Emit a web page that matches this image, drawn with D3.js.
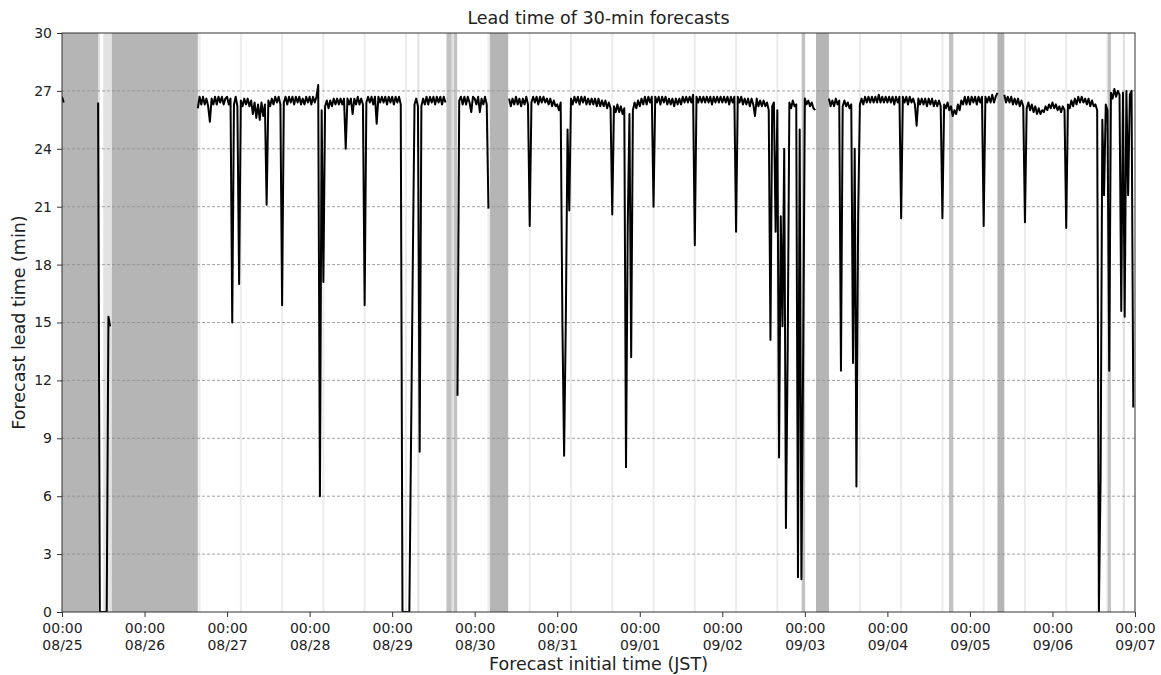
<!DOCTYPE html>
<html>
<head>
<meta charset="utf-8">
<script src="https://cdn.jsdelivr.net/npm/d3@7"></script>
<style>
body { margin: 0; background: #fff; }
text { font-family: "DejaVu Sans", sans-serif; fill: #222; }
</style>
</head>
<body>
<svg id="chart" width="1161" height="675"></svg>
<script>
// tick labels
var dayLabels = ["08/25","08/26","08/27","08/28","08/29","08/30","08/31","09/01","09/02","09/03","09/04","09/05","09/06","09/07"];
var yTicks = [0,3,6,9,12,15,18,21,24,27,30];

// forecast lead time (min), one value every 30 min from 00:00, null = no forecast
var lead0825 = [26.7,26.4,null,null,null,null,null,null,null,null,null,null,
  null,null,null,null,null,null,null,null,null,26.4,0,0,
  0,0,0,15.3,14.8,null,null,null,null,null,null,null,
  null,null,null,null,null,null,null,null,null,null,null,null];
var lead0826 = [null,null,null,null,null,null,null,null,null,null,null,null,
  null,null,null,null,null,null,null,null,null,null,null,null,
  null,null,null,null,null,null,null,26.1,26.7,26.3,26.7,26.3,
  26.6,26.2,25.4,26.6,26.3,26.7,26.3,26.7,26.4,26.7,26.3,26.6];
var lead0827 = [26.7,26.3,26.6,15.0,26.3,26.7,26.2,17.0,26.5,26.2,26.6,26.3,
  26.6,26.2,26.5,25.8,26.4,25.6,26.3,25.5,26.4,25.7,26.3,21.1,
  26.5,26.2,26.6,26.3,26.7,26.4,26.7,26.3,15.9,26.4,26.7,26.3,
  26.7,26.4,26.7,26.3,26.7,26.4,26.7,26.3,26.6,26.3,26.7,26.4];
var lead0828 = [26.7,26.3,26.7,26.4,26.7,27.3,6.0,26.0,17.1,26.2,26.5,26.1,
  26.5,26.2,26.6,26.3,26.6,26.3,26.6,26.3,26.6,24.0,26.6,26.3,
  26.6,25.8,26.6,26.3,26.7,26.3,26.6,26.3,15.9,26.4,26.7,26.4,
  26.7,26.3,26.7,25.3,26.7,26.4,26.7,26.4,26.7,26.3,26.7,26.4];
var lead0829 = [26.7,26.3,26.7,26.4,26.7,26.3,0,0,0,0,0,9.0,
  18.0,26.3,26.6,26.2,8.3,26.2,26.6,26.3,26.7,26.3,26.7,26.4,
  26.7,26.3,26.7,26.4,26.7,26.3,26.7,26.4,null,null,null,null,
  null,null,11.2,26.5,26.7,26.3,26.7,26.3,26.7,26.4,25.9,26.7];
var lead0830 = [26.6,26.3,26.7,25.9,26.6,26.3,26.7,26.3,20.9,null,null,null,
  null,null,null,null,null,null,null,null,26.6,26.2,26.6,26.3,
  26.7,26.3,26.6,26.2,26.6,26.3,26.7,26.3,20.0,26.4,26.7,26.4,
  26.7,26.3,26.7,26.4,26.7,26.4,26.6,26.3,26.6,26.2,26.5,26.2];
var lead0831 = [26.3,26.0,26.4,15.0,8.1,15.2,25.0,20.8,26.6,26.3,26.7,26.4,
  26.7,26.3,26.7,26.4,26.7,26.3,26.6,26.3,26.6,26.3,26.6,26.2,
  26.6,26.2,26.5,26.2,26.5,26.1,26.4,26.1,20.6,26.2,25.9,26.3,
  25.9,26.2,25.8,26.1,7.5,20.0,25.8,13.2,26.0,26.4,26.1,26.5];
var lead0901 = [26.2,26.6,26.3,26.7,26.3,26.7,26.4,26.7,21.0,26.7,26.4,26.7,
  26.3,26.7,26.4,26.7,26.3,26.6,26.3,26.6,26.2,26.6,26.3,26.6,
  26.3,26.7,26.4,26.7,26.4,26.7,26.4,26.8,19.0,26.7,26.4,26.7,
  26.4,26.7,26.4,26.7,26.4,26.7,26.3,26.7,26.4,26.7,26.4,26.7];
var lead0902 = [26.4,26.7,26.4,26.7,26.3,26.7,26.4,26.7,19.7,26.7,26.4,26.7,
  26.3,26.6,26.3,26.6,26.2,26.6,26.3,25.7,26.6,26.2,26.5,26.2,
  26.5,26.2,26.4,26.0,14.1,26.2,26.4,19.7,26.0,8.0,20.5,14.8,
  24.0,4.35,13.3,26.4,26.1,26.5,26.2,26.3,1.8,25.0,1.7,13.0];
var lead0903 = [26.6,26.3,26.5,26.2,26.4,26.1,26.0,null,null,null,null,null,
  null,null,26.6,26.2,26.5,26.2,26.6,26.3,26.5,12.5,26.2,26.5,
  26.2,26.4,26.1,26.3,12.9,24.0,6.5,20.5,26.3,26.6,26.3,26.7,
  26.4,26.7,26.4,26.7,26.4,26.7,26.4,26.8,26.4,26.7,26.4,26.7];
var lead0904 = [26.4,26.7,26.4,26.7,26.3,26.7,26.4,26.7,20.4,26.7,26.4,26.7,
  26.3,26.7,26.4,26.6,26.3,25.2,26.6,26.3,26.6,26.3,26.6,26.2,
  26.6,26.3,26.6,26.2,26.5,26.2,26.5,26.2,20.4,26.3,26.1,26.4,
  26.0,26.2,25.7,26.0,25.8,26.3,26.0,26.5,26.3,26.7,26.3,26.7];
var lead0905 = [26.3,26.7,26.4,26.7,26.3,26.7,26.4,26.7,20.0,26.7,26.4,26.7,
  26.4,26.8,26.4,26.7,26.9,null,null,null,26.8,26.4,26.7,26.4,
  26.7,26.3,26.6,26.3,26.6,26.2,26.5,26.2,20.2,26.1,26.4,26.0,
  26.3,25.9,26.2,25.8,26.1,25.8,26.0,25.9,26.2,26.0,26.3,26.1];
var lead0906 = [26.4,26.1,26.3,26.0,26.2,25.9,26.2,26.0,19.9,26.3,26.1,26.5,
  26.2,26.6,26.3,26.7,26.4,26.7,26.4,26.6,26.3,26.6,26.2,26.5,
  26.2,26.3,26.0,0,7.0,25.5,21.6,26.3,26.0,12.5,26.9,26.6,
  27.1,26.7,27.0,26.8,15.6,26.9,15.3,27.0,21.6,26.8,27.0,10.6];

// periods without forecasts: start, end, shade
var gapStart = ["08/25 00:00","08/25 10:35","08/25 12:00","08/25 14:30","08/29 07:20","08/29 15:50","08/29 17:20","08/29 18:00",
  "08/30 04:25","09/02 23:05","09/03 03:15","09/04 17:55","09/05 08:00","09/06 16:05","09/06 20:25"];
var gapEnd = ["08/25 10:35","08/25 11:05","08/25 14:30","08/26 15:30","08/29 07:55","08/29 17:20","08/29 18:00","08/29 18:55",
  "08/30 09:45","09/03 00:05","09/03 07:00","09/04 19:10","09/05 10:00","09/06 17:00","09/06 21:05"];
var gapShade = ["dark","light","light","dark","light","mid","light","mid","dark","mid","dark","mid","dark","mid","light"];

// single missed forecasts, drawn as faint lines
var missedOne = ["08/25 04:00","08/25 16:00","08/26 04:00","08/26 16:00","08/27 04:00","08/27 16:00","08/28 04:00","08/28 16:00",
  "08/29 04:00","08/29 16:00","08/30 04:00","08/30 16:00","08/31 04:00","08/31 16:00","09/01 04:00","09/01 16:00",
  "09/02 04:00","09/02 16:00","09/03 04:00","09/03 16:00","09/04 04:00","09/04 16:00","09/05 04:00","09/05 16:00",
  "09/06 04:00","09/06 16:00"];

var shadeColor = { dark: "#b5b5b5", mid: "#c2c2c2", light: "#e2e2e2" };

var mLeft = 62, mRight = 1135, mTop = 33, mBottom = 612;
var parse = d3.timeParse("%m/%d %H:%M");

var x = d3.scaleTime().domain([parse("08/25 00:00"), parse("09/07 00:00")]).range([mLeft, mRight]);
var y = d3.scaleLinear().domain([0, 30]).range([mBottom, mTop]);

var svg = d3.select("#chart");

svg.append("clipPath").attr("id", "plot").append("rect")
  .attr("x", mLeft).attr("y", mTop).attr("width", mRight - mLeft).attr("height", mBottom - mTop);

var plot = svg.append("g").attr("clip-path", "url(#plot)");

plot.selectAll("line.missed").data(missedOne).enter().append("line")
  .attr("class", "missed")
  .attr("x1", function(d) { return x(parse(d)); })
  .attr("x2", function(d) { return x(parse(d)); })
  .attr("y1", mTop).attr("y2", mBottom)
  .attr("stroke", "#ececec").attr("stroke-width", 2);

plot.selectAll("rect.gap").data(gapStart).enter().append("rect")
  .attr("class", "gap")
  .attr("x", function(d) { return x(parse(d)); })
  .attr("width", function(d, i) { return x(parse(gapEnd[i])) - x(parse(d)); })
  .attr("y", mTop).attr("height", mBottom - mTop)
  .attr("fill", function(d, i) { return shadeColor[gapShade[i]]; });

// horizontal dashed grid
plot.selectAll("line.grid").data(yTicks.slice(1, -1)).enter().append("line")
  .attr("class", "grid")
  .attr("x1", mLeft).attr("x2", mRight)
  .attr("y1", function(d) { return y(d); })
  .attr("y2", function(d) { return y(d); })
  .attr("stroke", "#8c8c8c").attr("stroke-width", 0.8).attr("stroke-dasharray", "3,2");

// series
var days = [lead0825,lead0826,lead0827,lead0828,lead0829,lead0830,lead0831,lead0901,lead0902,lead0903,lead0904,lead0905,lead0906];
var points = [];
days.forEach(function(vals, i) {
  var start = parse(dayLabels[i] + " 00:00");
  vals.forEach(function(v, s) {
    points.push({ t: d3.timeMinute.offset(start, 30 * s), v: v });
  });
});

var line = d3.line()
  .defined(function(d) { return d.v !== null; })
  .x(function(d) { return x(d.t); })
  .y(function(d) { return y(d.v); });

plot.append("path").datum(points)
  .attr("d", line)
  .attr("fill", "none").attr("stroke", "#000")
  .attr("stroke-width", 2).attr("stroke-linejoin", "round");

// axes
var xAxis = svg.append("g").attr("transform", "translate(0," + mBottom + ")")
  .call(d3.axisBottom(x)
    .tickValues(dayLabels.map(function(d) { return parse(d + " 00:00"); }))
    .tickSize(5).tickSizeOuter(0).tickPadding(6)
    .tickFormat(d3.timeFormat("%m/%d")));
xAxis.select(".domain").remove();
xAxis.selectAll(".tick line").attr("stroke", "#333");
xAxis.selectAll(".tick text").each(function() {
  var t = d3.select(this), label = t.text();
  t.text(null).style("font-size", "14px").attr("fill", "#222");
  t.append("tspan").attr("x", 0).attr("dy", "0.71em").text("00:00");
  t.append("tspan").attr("x", 0).attr("dy", "1.2em").text(label);
});

var yAxis = svg.append("g").attr("transform", "translate(" + mLeft + ",0)")
  .call(d3.axisLeft(y).tickValues(yTicks).tickSize(5).tickSizeOuter(0).tickPadding(5));
yAxis.select(".domain").remove();
yAxis.selectAll(".tick line").attr("stroke", "#333");
yAxis.selectAll(".tick text").style("font-size", "14px").attr("fill", "#222");

svg.append("rect")
  .attr("x", mLeft).attr("y", mTop).attr("width", mRight - mLeft).attr("height", mBottom - mTop)
  .attr("fill", "none").attr("stroke", "#333").attr("stroke-width", 1);

svg.append("text").attr("x", (mLeft + mRight) / 2).attr("y", 24)
  .attr("text-anchor", "middle").style("font-size", "17.5px")
  .text("Lead time of 30-min forecasts");

svg.append("text").attr("x", (mLeft + mRight) / 2).attr("y", 670)
  .attr("text-anchor", "middle").style("font-size", "17.5px")
  .text("Forecast initial time (JST)");

svg.append("text")
  .attr("transform", "translate(25," + ((mTop + mBottom) / 2) + ") rotate(-90)")
  .attr("text-anchor", "middle").style("font-size", "17.5px")
  .text("Forecast lead time (min)");
</script>
</body>
</html>
